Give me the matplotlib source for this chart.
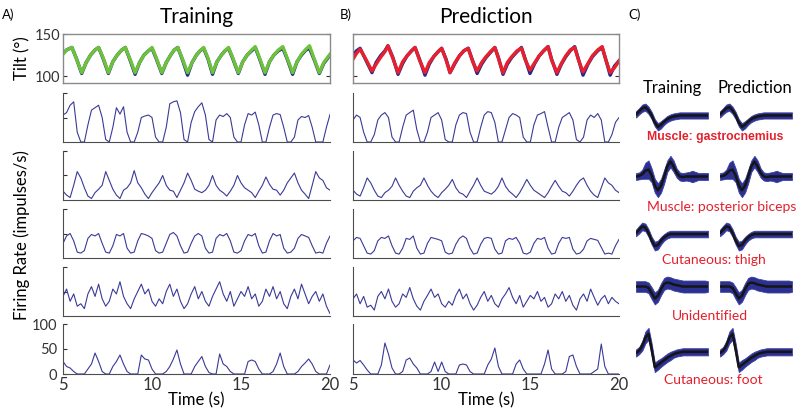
import matplotlib.pyplot as plt
import numpy as np

plt.rcParams['font.family'] = 'Lato'

# ---- tilt traces (deg) ----
train_t = [5.0, 5.2, 5.5, 5.75, 6.05,
           6.3, 6.55, 6.8, 7.0, 7.25, 7.55,
           7.8, 8.05, 8.3, 8.5, 8.75, 9.05,
           9.3, 9.55, 9.8, 10.0, 10.25, 10.55,
           10.8, 11.05, 11.25, 11.45, 11.7, 12.0,
           12.25, 12.5, 12.7, 12.9, 13.15, 13.4,
           13.65, 13.9, 14.1, 14.3, 14.55, 14.85,
           15.1, 15.35, 15.6, 15.8, 16.05, 16.35,
           16.6, 16.85, 17.1, 17.35, 17.6, 17.9,
           18.15, 18.4, 18.65, 18.85, 19.1, 19.4,
           19.65, 20.0]
train_tilt_actual = [127, 131, 134, 121, 103,
                     116, 125, 131, 134, 121, 103,
                     117, 125, 131, 134, 120, 102,
                     116, 125, 130, 133, 120, 103,
                     116, 125, 131, 134, 120, 101,
                     116, 125, 130, 133, 120, 102,
                     117, 125, 130, 133, 120, 103,
                     117, 125, 130, 134, 120, 102,
                     117, 125, 130, 133, 120, 102,
                     117, 125, 131, 133, 120, 103,
                     115, 125]
train_tilt_fit = [126, 131, 134, 121, 104,
                  116, 125, 131, 134, 122, 104,
                  117, 125, 131, 134, 121, 104,
                  116, 125, 130, 134, 121, 104,
                  116, 125, 131, 134, 121, 104,
                  116, 125, 130, 134, 121, 104,
                  117, 125, 130, 134, 121, 104,
                  117, 125, 131, 135, 121, 104,
                  117, 125, 131, 135, 121, 104,
                  117, 126, 132, 136, 121, 104,
                  116, 126]

pred_t = [5.0, 5.2, 5.4, 5.7, 6.07,
          6.3, 6.55, 6.8, 6.97, 7.25, 7.54,
          7.8, 8.05, 8.3, 8.5, 8.75, 9.06,
          9.3, 9.55, 9.8, 10.0, 10.25, 10.47,
          10.75, 11.0, 11.25, 11.5, 11.75, 12.0,
          12.25, 12.5, 12.75, 13.0, 13.2, 13.46,
          13.7, 13.95, 14.25, 14.5, 14.7, 14.98,
          15.25, 15.5, 15.75, 16.0, 16.2, 16.5,
          16.75, 17.0, 17.25, 17.5, 17.7, 17.97,
          18.25, 18.5, 18.8, 19.05, 19.25, 19.5,
          19.75, 20.0]
pred_tilt_actual = [125, 130, 133, 120, 104,
                    116, 124, 130, 136, 122, 102,
                    115, 124, 130, 134, 120, 101,
                    114, 123, 129, 133, 120, 104,
                    115, 124, 130, 133, 118, 103,
                    114, 122, 128, 134, 122, 102,
                    114, 122, 129, 134, 121, 103,
                    115, 124, 130, 135, 120, 102,
                    114, 123, 130, 135, 121, 101,
                    114, 123, 130, 134, 120, 101,
                    112, 118]
pred_tilt_model = [120, 127, 132, 121, 106,
                   114, 122, 129, 136, 121, 104,
                   117, 124, 130, 134, 119, 104,
                   116, 123, 129, 133, 119, 104,
                   116, 124, 130, 133, 117, 106,
                   116, 123, 129, 134, 121, 104,
                   116, 123, 130, 133, 120, 107,
                   116, 124, 130, 135, 119, 104,
                   115, 124, 131, 134, 120, 105,
                   115, 124, 131, 135, 120, 104,
                   110, 118]

# ---- firing rates, sampled every 0.2 s from 5 to 20 s ----
rate_t = np.linspace(5, 20, 76)

train_rates = [
    [55, 60, 75, 82, 20, 0, 0, 35, 65, 70,
     75, 50, 5, 0, 30, 70, 57, 72, 20, 0,
     0, 20, 50, 53, 55, 50, 10, 0, 0, 30,
     78, 82, 84, 60, 5, 0, 40, 62, 72, 80,
     55, 5, 0, 45, 55, 52, 58, 50, 10, 0,
     0, 35, 58, 55, 61, 35, 0, 0, 30, 55,
     58, 56, 30, 0, 0, 10, 45, 52, 50, 54,
     30, 0, 0, 0, 30, 56],
    [18, 10, 5, 30, 58, 45, 25, 8, 3, 15,
     22, 30, 58, 40, 22, 10, 3, 20, 25, 35,
     60, 35, 25, 12, 3, 15, 25, 35, 50, 30,
     20, 18, 5, 20, 35, 55, 40, 22, 18, 15,
     20, 30, 50, 30, 20, 15, 8, 18, 30, 50,
     35, 25, 20, 15, 5, 18, 30, 47, 32, 22,
     20, 10, 20, 35, 45, 55, 35, 20, 12, 3,
     30, 58, 45, 40, 25, 20],
    [30, 45, 50, 35, 12, 10, 15, 40, 48, 45,
     50, 30, 12, 10, 25, 48, 45, 50, 20, 10,
     12, 35, 50, 48, 45, 40, 15, 10, 12, 30,
     48, 52, 45, 25, 10, 12, 30, 45, 50, 45,
     20, 10, 12, 40, 48, 45, 50, 35, 12, 10,
     15, 35, 48, 45, 50, 25, 10, 12, 35, 50,
     45, 48, 20, 10, 12, 20, 40, 48, 45, 42,
     25, 10, 12, 10, 30, 45],
    [40, 55, 30, 45, 20, 25, 15, 45, 60, 40,
     65, 35, 20, 30, 55, 45, 70, 40, 25, 15,
     35, 50, 65, 45, 55, 30, 20, 35, 25, 50,
     65, 40, 55, 30, 15, 25, 45, 60, 35, 50,
     30, 20, 40, 55, 70, 45, 30, 50, 20, 35,
     50, 40, 60, 35, 45, 20, 30, 55, 40, 60,
     35, 50, 25, 15, 40, 55, 35, 65, 45, 25,
     40, 50, 30, 45, 20, 5],
    [25, 15, 12, 5, 0, 0, 0, 10, 20, 42,
     25, 5, 0, 0, 15, 25, 38, 20, 5, 0,
     0, 0, 38, 30, 28, 10, 0, 0, 0, 5,
     15, 30, 48, 20, 0, 0, 0, 15, 25, 35,
     15, 3, 0, 0, 40, 20, 15, 5, 0, 0,
     0, 0, 25, 28, 25, 10, 0, 0, 0, 5,
     20, 42, 15, 0, 0, 0, 5, 15, 22, 30,
     20, 5, 0, 0, 0, 18],
]

pred_rates = [
    [45, 55, 50, 20, 0, 0, 15, 45, 55, 60,
     50, 10, 0, 0, 30, 55, 60, 65, 25, 0,
     0, 20, 50, 55, 60, 45, 5, 0, 0, 35,
     55, 60, 58, 20, 0, 0, 30, 55, 62, 60,
     40, 0, 0, 25, 50, 58, 55, 50, 10, 0,
     0, 35, 55, 58, 62, 30, 0, 0, 30, 50,
     55, 60, 45, 5, 0, 10, 45, 55, 50, 58,
     45, 0, 0, 15, 40, 50],
    [20, 12, 8, 25, 45, 35, 20, 8, 5, 15,
     20, 28, 45, 30, 18, 8, 5, 18, 25, 30,
     45, 30, 18, 10, 5, 15, 22, 30, 42, 25,
     15, 12, 5, 18, 30, 45, 30, 18, 15, 12,
     18, 28, 45, 28, 18, 12, 5, 15, 28, 42,
     30, 20, 15, 10, 5, 15, 28, 40, 28, 18,
     15, 8, 18, 30, 40, 45, 30, 18, 10, 5,
     25, 45, 35, 30, 20, 15],
    [35, 42, 40, 25, 10, 8, 15, 35, 42, 40,
     45, 25, 10, 8, 20, 40, 38, 45, 20, 8,
     10, 30, 42, 40, 38, 35, 12, 8, 10, 28,
     40, 45, 40, 20, 8, 10, 28, 40, 42, 40,
     18, 8, 10, 35, 40, 38, 42, 30, 10, 8,
     12, 30, 40, 38, 42, 20, 8, 10, 30, 42,
     40, 42, 18, 8, 10, 18, 35, 40, 38, 36,
     22, 8, 10, 8, 25, 38],
    [35, 45, 25, 40, 18, 22, 12, 40, 50, 35,
     55, 30, 18, 25, 45, 38, 58, 35, 20, 12,
     30, 42, 55, 38, 45, 25, 18, 30, 22, 42,
     55, 35, 45, 25, 12, 22, 38, 50, 30, 42,
     25, 18, 35, 45, 58, 38, 25, 42, 18, 30,
     42, 35, 50, 30, 38, 18, 25, 45, 35, 50,
     30, 42, 22, 12, 35, 45, 30, 55, 38, 22,
     35, 42, 25, 38, 30, 25],
    [28, 22, 27, 18, 8, 0, 0, 0, 18, 62,
     40, 12, 0, 0, 5, 28, 32, 20, 12, 0,
     0, 0, 5, 24, 5, 24, 5, 0, 0, 0,
     18, 20, 18, 5, 0, 0, 0, 0, 18, 30,
     52, 15, 0, 0, 0, 0, 20, 28, 10, 0,
     0, 0, 0, 0, 20, 48, 10, 0, 0, 0,
     5, 35, 38, 15, 0, 0, 0, 0, 5, 10,
     60, 15, 0, 0, 0, 0],
]

# ---- spike waveforms (mean and spread, arbitrary units) ----
unit_names = ['Muscle: gastrocnemius', 'Muscle: posterior biceps',
              'Cutaneous: thigh', 'Unidentified', 'Cutaneous: foot']
wave_means = [
    [0.1, 0.4, 0.7, 0.8, 0.5, 0.0, -0.7, -1.1, -0.9, -0.6, -0.35, -0.2,
     -0.1, -0.05, 0, 0, 0, 0, 0, 0, 0, 0, 0, 0],
    [0, 0.05, 0.2, 0.5, 0.6, 0.1, -0.8, -1.2, -0.8, 0.0, 0.9, 1.3,
     0.9, 0.3, 0.0, -0.05, 0, 0, 0, 0, 0, 0, 0, 0],
    [0.1, 0.4, 0.7, 0.6, 0.1, -0.6, -1.1, -1.0, -0.6, -0.3, -0.1, 0,
     0, 0, 0, 0, 0, 0, 0, 0, 0, 0, 0, 0],
    [0, 0, 0, 0, -0.1, -0.5, -0.9, -0.7, -0.2, 0.2, 0.3, 0.25,
     0.15, 0.1, 0.05, 0, 0, 0, 0, 0, 0, 0, 0, 0],
    [-0.1, 0.1, 0.5, 1.2, 1.5, 0.2, -1.3, -1.1, -0.9, -0.7, -0.5, -0.35,
     -0.2, -0.1, -0.05, 0, 0, 0, 0, 0, 0, 0, 0, 0],
]
wave_spreads = [
    [0.3, 0.3, 0.35, 0.35, 0.35, 0.35, 0.35, 0.35, 0.35, 0.3, 0.3, 0.3,
     0.3, 0.3, 0.3, 0.3, 0.3, 0.3, 0.3, 0.3, 0.3, 0.3, 0.3, 0.3],
    [0.3, 0.3, 0.4, 0.7, 0.8, 0.6, 0.6, 0.6, 0.6, 0.6, 0.5, 0.5,
     0.5, 0.4, 0.35, 0.35, 0.35, 0.4, 0.5, 0.4, 0.3, 0.3, 0.3, 0.3],
    [0.3, 0.35, 0.35, 0.35, 0.35, 0.35, 0.4, 0.4, 0.35, 0.3, 0.3, 0.3,
     0.3, 0.3, 0.3, 0.3, 0.3, 0.3, 0.3, 0.3, 0.3, 0.3, 0.3, 0.3],
    [0.4, 0.4, 0.4, 0.4, 0.4, 0.45, 0.45, 0.45, 0.45, 0.45, 0.45, 0.45,
     0.45, 0.45, 0.45, 0.45, 0.45, 0.45, 0.45, 0.45, 0.45, 0.45, 0.45, 0.4],
    [0.3, 0.3, 0.4, 0.5, 0.5, 0.5, 0.4, 0.4, 0.35, 0.35, 0.35, 0.35,
     0.3, 0.3, 0.3, 0.3, 0.3, 0.3, 0.3, 0.3, 0.3, 0.3, 0.3, 0.3],
]

W, H = 800, 413
navy = '#24288c'
trace_col = '#3a3a98'
red = '#e4202c'


def box(x0, y0, x1, y1):
    return [x0 / W, 1 - y1 / H, (x1 - x0) / W, (y1 - y0) / H]


fig = plt.figure(figsize=(8, 4.13), dpi=100)

# ---- columns A and B ----
rate_rows = [(93, 142), (151, 200), (209, 258), (267, 316), (324, 374)]
for col, (x0, x1) in enumerate([(63, 330), (353, 619)]):
    ax = fig.add_axes(box(x0, 34, x1, 83))
    if col == 0:
        ax.plot(train_t, train_tilt_actual, color=navy, lw=2.4)
        ax.plot(train_t, train_tilt_fit, color='#6cc23a', lw=2.4)
    else:
        ax.plot(pred_t, pred_tilt_actual, color=navy, lw=2.4)
        ax.plot(pred_t, pred_tilt_model, color='#e8202e', lw=2.4)
    ax.set_xlim(5, 20)
    ax.set_ylim(91.7, 150)
    ax.set_xticks([])
    ax.set_yticks([100, 150])
    ax.tick_params(axis='y', direction='in', length=3, right=True,
                   labelsize=10.5, pad=2, colors='#333333')
    if col == 1:
        ax.set_yticklabels([])
    for s in ax.spines.values():
        s.set_color('#8a8a8a')
        s.set_linewidth(1)

    rates = train_rates if col == 0 else pred_rates
    for i, (y0, y1) in enumerate(rate_rows):
        ax = fig.add_axes(box(x0, y0, x1, y1))
        ax.plot(rate_t, rates[i], color=trace_col, lw=0.8)
        ax.set_xlim(5, 20)
        ax.set_ylim(0, 100)
        ax.spines[['top', 'right']].set_visible(False)
        for s in ax.spines.values():
            s.set_color('#4d4d4d')
            s.set_linewidth(0.8)
        ax.tick_params(direction='in', length=3, colors='#333333', pad=2)
        if i < 4:
            ax.set_xticks([])
            if col == 0:
                ax.set_yticks([50, 100])
                ax.set_yticklabels([])
            else:
                ax.set_yticks([])
        else:
            ax.set_xticks([5, 10, 15, 20])
            ax.tick_params(axis='x', labelsize=12, length=0, pad=2)
            ax.set_yticks([0, 50, 100])
            if col == 0:
                ax.tick_params(axis='y', labelsize=10.5, pad=4)
            else:
                ax.set_yticklabels([])
                ax.tick_params(axis='y', length=0)
            ax.set_xlabel('Time (s)', fontsize=12, labelpad=0)

fig.text(197 / W, 1 - 17 / H, 'Training', ha='center', va='center', fontsize=15)
fig.text(486 / W, 1 - 17 / H, 'Prediction', ha='center', va='center', fontsize=15)
fig.text(2 / W, 1 - 15 / H, 'A)', ha='left', va='center', fontsize=9.5)
fig.text(340 / W, 1 - 15 / H, 'B)', ha='left', va='center', fontsize=9.5)
fig.text(628 / W, 1 - 15 / H, 'C)', ha='left', va='center', fontsize=9.5)
fig.text(22 / W, 1 - 58 / H, 'Tilt (°)', ha='center', va='center',
         rotation=90, fontsize=12)
fig.text(22 / W, 1 - 235 / H, 'Firing Rate (impulses/s)', ha='center',
         va='center', rotation=90, fontsize=12)

# ---- column C: spike waveforms ----
fig.text(672 / W, 1 - 88 / H, 'Training', ha='center', va='center', fontsize=12)
fig.text(755 / W, 1 - 88 / H, 'Prediction', ha='center', va='center', fontsize=12)

wave_rows = [(103, 131), (155, 198), (222, 251), (276, 305), (327, 373)]
label_y = [137, 207, 260, 316, 380]
label_x = [715, 722, 714, 710, 713]
for k in range(5):
    mean = np.array(wave_means[k])
    spread = np.array(wave_spreads[k])
    samples = np.arange(len(mean))
    for x0, x1 in [(636, 708), (720, 792)]:
        ax = fig.add_axes(box(x0, wave_rows[k][0], x1, wave_rows[k][1]))
        ax.fill_between(samples, mean - spread, mean + spread,
                        color='#2b3091', lw=0.6, edgecolor='#3b40a0')
        ax.plot(samples, mean, color='#151515', lw=1.8)
        ax.set_xlim(0, len(mean) - 1)
        ax.margins(y=0.02)
        ax.axis('off')
    if k == 0:
        fig.text(label_x[k] / W, 1 - label_y[k] / H, unit_names[k],
                 ha='center', va='center', color=red, fontsize=8.8,
                 fontweight='bold', family='Liberation Sans')
    else:
        fig.text(label_x[k] / W, 1 - label_y[k] / H, unit_names[k],
                 ha='center', va='center', color=red, fontsize=10)

fig.savefig('out.png', dpi=100)
